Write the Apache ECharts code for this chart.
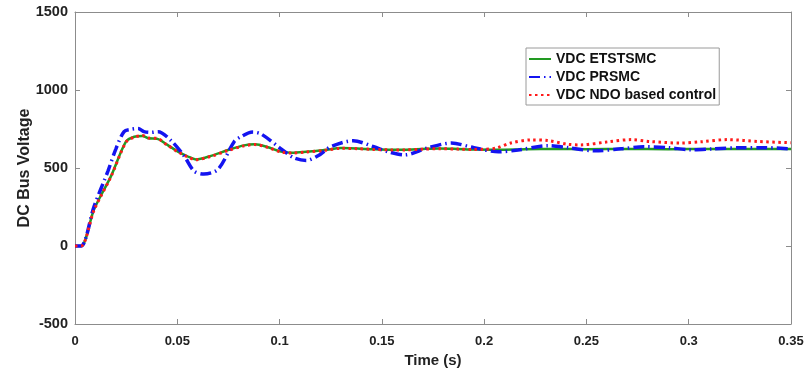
<!DOCTYPE html>
<html>
<head>
<meta charset="utf-8">
<script src="https://cdn.jsdelivr.net/npm/echarts@6/dist/echarts.min.js"></script>
<style>html,body{margin:0;padding:0;background:#fff}#c{width:808px;height:372px}</style>
</head>
<body>
<div id="c"></div>
<script>
// Tick settings
var xTicks = [0, 0.05, 0.1, 0.15, 0.2, 0.25, 0.3, 0.35];
var yTicks = [-500, 0, 500, 1000, 1500];

// VDC ETSTSMC
var etsT = [0,0.003,0.0093,0.0176,0.0249,0.029,0.033,0.036,0.040,0.045,0.0503,0.055,0.0591,0.0665,0.0748,0.0826,0.088,0.094,0.1007,0.106,0.113,0.122,0.13,0.138,0.146,0.155,0.161,0.17,0.178,0.187,0.195,0.207,0.22,0.235,0.25,0.27,0.29,0.31,0.33,0.35];
var etsV = [0,0,234,448,669,700,705,690,688,650,605,575,555,578,615,645,652,635,605,598,604,615,628,625,620,617,617,622,625,622,618,617,620,622,620,622,620,622,622,622];

// VDC PRSMC
var prT = [0,0.003,0.0093,0.0161,0.020,0.024,0.0275,0.0308,0.0337,0.037,0.0406,0.047,0.0533,0.0582,0.063,0.07,0.0778,0.0811,0.0868,0.091,0.1007,0.107,0.113,0.119,0.125,0.136,0.146,0.153,0.161,0.1726,0.184,0.195,0.207,0.2166,0.231,0.241,0.254,0.267,0.278,0.29,0.301,0.312,0.326,0.337,0.35];
var prV = [0,0,253,480,623,733,748,753,733,728,733,675,578,480,461,493,669,700,730,718,623,565,548,580,636,675,636,604,584,630,660,630,604,615,643,630,610,623,636,630,617,623,630,630,623];

// VDC NDO based control
var ndoT = [0,0.003,0.0093,0.0176,0.0249,0.029,0.033,0.036,0.040,0.045,0.0503,0.055,0.0591,0.0665,0.0748,0.0826,0.088,0.094,0.1007,0.106,0.113,0.122,0.13,0.138,0.146,0.155,0.161,0.17,0.178,0.187,0.195,0.2,0.206,0.213,0.223,0.231,0.241,0.247,0.2606,0.272,0.281,0.296,0.306,0.319,0.334,0.35];
var ndoV = [0,0,230,445,665,698,708,692,690,648,603,572,553,575,612,642,650,633,603,596,602,613,626,624,619,616,616,621,624,621,619,620,628,660,680,676,652,648,668,682,670,660,668,682,670,662];

function pairs(t, v){ return t.map(function(x,i){ return [x, v[i]]; }); }

var FONT = 'Liberation Sans';
var axLine = {show:true, onZero:false, lineStyle:{color:'#8c8c8c', width:1}};
var tick = {show:true, inside:true, length:5, lineStyle:{color:'#8c8c8c'}};

var chart = echarts.init(document.getElementById('c'), null, {renderer:'canvas'});
chart.setOption({
  animation:false,
  backgroundColor:'#fff',
  grid:{left:75, right:17, top:12, bottom:48, outerBoundsMode:'none', containLabel:false},
  legend:{
    orient:'vertical', left:526, top:48,
    itemWidth:22, itemHeight:10, itemGap:4,
    padding:[4,3,3,2],
    borderColor:'#9a9a9a', borderWidth:1,
    backgroundColor:'#fff',
    itemStyle:{opacity:0},
    textStyle:{color:'#111', fontFamily:FONT, fontWeight:'bold', fontSize:14},
    data:['VDC ETSTSMC','VDC PRSMC','VDC NDO based control']
  },
  xAxis:[{
    type:'value', min:0, max:0.35, interval:0.05,
    name:'Time (s)', nameLocation:'middle', nameGap:29, nameMoveOverlap:false,
    nameTextStyle:{color:'#222', fontFamily:FONT, fontWeight:'bold', fontSize:15},
    axisLine:axLine, axisTick:tick,
    axisLabel:{margin:11, color:'#222', fontFamily:FONT, fontWeight:'bold', fontSize:13,
      formatter:function(v){ return String(+v.toFixed(2)); }},
    splitLine:{show:false}
  },{
    type:'value', min:0, max:0.35, interval:0.05, position:'top',
    axisLine:axLine, axisTick:tick, axisLabel:{show:false}, splitLine:{show:false}
  }],
  yAxis:[{
    type:'value', min:-500, max:1500, interval:500,
    name:'DC Bus Voltage', nameLocation:'middle', nameGap:42, nameMoveOverlap:false,
    nameTextStyle:{color:'#222', fontFamily:FONT, fontWeight:'bold', fontSize:16},
    axisLine:axLine, axisTick:tick,
    axisLabel:{margin:7, color:'#222', fontFamily:FONT, fontWeight:'bold', fontSize:14.5,
      formatter:function(v){ return String(v); }},
    splitLine:{show:false}
  },{
    type:'value', min:-500, max:1500, interval:500, position:'right',
    axisLine:axLine, axisTick:tick, axisLabel:{show:false}, splitLine:{show:false}
  }],
  series:[{
    name:'VDC ETSTSMC', type:'line', symbol:'none', smooth:0.3,
    data:pairs(etsT, etsV),
    color:'#229a22',
    lineStyle:{color:'#229a22', width:2.5},
    z:2
  },{
    name:'VDC PRSMC', type:'line', symbol:'none', smooth:0.3,
    data:pairs(prT, prV),
    color:'#1414f0',
    lineStyle:{color:'#1414f0', width:3.5, type:[11,4,1.5,4]},
    z:3
  },{
    name:'VDC NDO based control', type:'line', symbol:'none', smooth:0.3,
    data:pairs(ndoT, ndoV),
    color:'#ff1a1a',
    lineStyle:{color:'#ff1a1a', width:3, type:[2.5,3.5]},
    z:4
  }]
});
</script>
</body>
</html>
